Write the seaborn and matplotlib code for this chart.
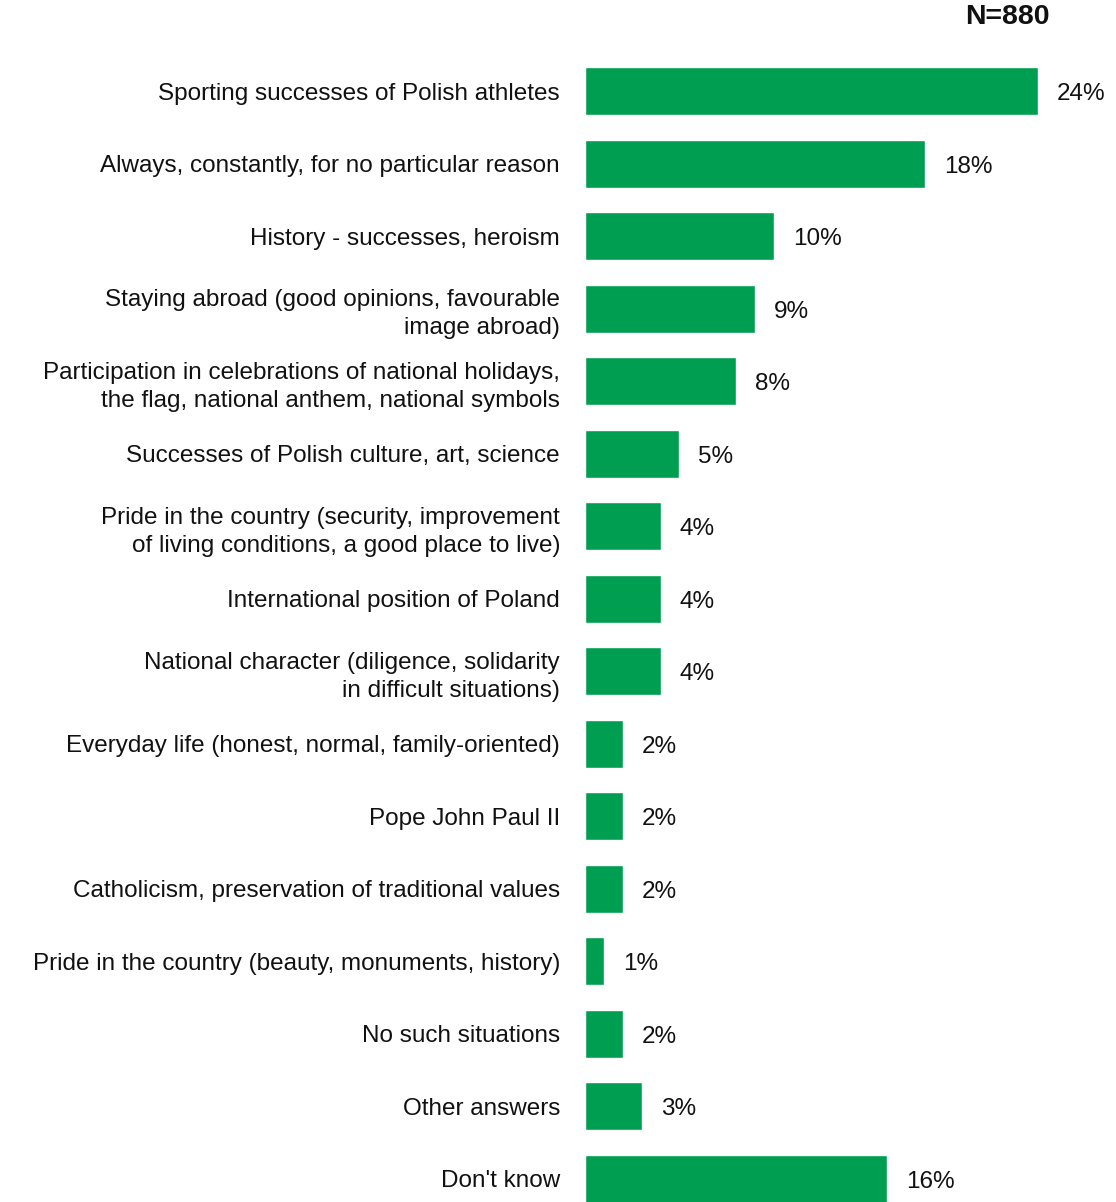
import pandas as pd
import seaborn as sns
import matplotlib.pyplot as plt

categories = [
    'Sporting successes of Polish athletes',
    'Always, constantly, for no particular reason',
    'History - successes, heroism',
    'Staying abroad (good opinions, favourable\nimage abroad)',
    'Participation in celebrations of national holidays,\nthe flag, national anthem, national symbols',
    'Successes of Polish culture, art, science',
    'Pride in the country (security, improvement\nof living conditions, a good place to live)',
    'International position of Poland',
    'National character (diligence, solidarity\nin difficult situations)',
    'Everyday life (honest, normal, family-oriented)',
    'Pope John Paul II',
    'Catholicism, preservation of traditional values',
    'Pride in the country (beauty, monuments, history)',
    'No such situations',
    'Other answers',
    "Don't know",
]
values = [24, 18, 10, 9, 8, 5, 4, 4, 4, 2, 2, 2, 1, 2, 3, 16]
sample_note = 'N=880'

df = pd.DataFrame({'answer': categories, 'pct': values})

sns.set_theme(style='white')
plt.rcParams['font.family'] = ['Liberation Sans', 'DejaVu Sans']

fig = plt.figure(figsize=(11.16, 12.02), dpi=100)
ax = fig.add_axes([585 / 1116, 0, 1 - 585 / 1116, 1 - 55 / 1202])

sns.barplot(data=df, x='pct', y='answer', color='#009E50', saturation=1,
            width=0.66, ax=ax)

ax.set_xlim(0, 531 / 18.875)
ax.set_ylim(15.32, -0.5)
ax.set_xlabel('')
ax.set_ylabel('')
ax.set_xticks([])
for s in ax.spines.values():
    s.set_visible(False)

ax.tick_params(axis='y', length=0, pad=18, labelsize=17.5, colors='#111111')
for lbl in ax.get_yticklabels():
    lbl.set_multialignment('right')
    lbl.set_linespacing(1.35)

for i, v in enumerate(values):
    ax.annotate(f'{v}%', (v, i), xytext=(19, -3), textcoords='offset pixels',
                va='center', ha='left', fontsize=17.5, color='#111111')

fig.text(1050 / 1116, 1 - 17 / 1202, sample_note, ha='right', va='center',
         fontsize=20.5, fontweight='bold', color='#111111')

fig.savefig('out.png', dpi=100)
